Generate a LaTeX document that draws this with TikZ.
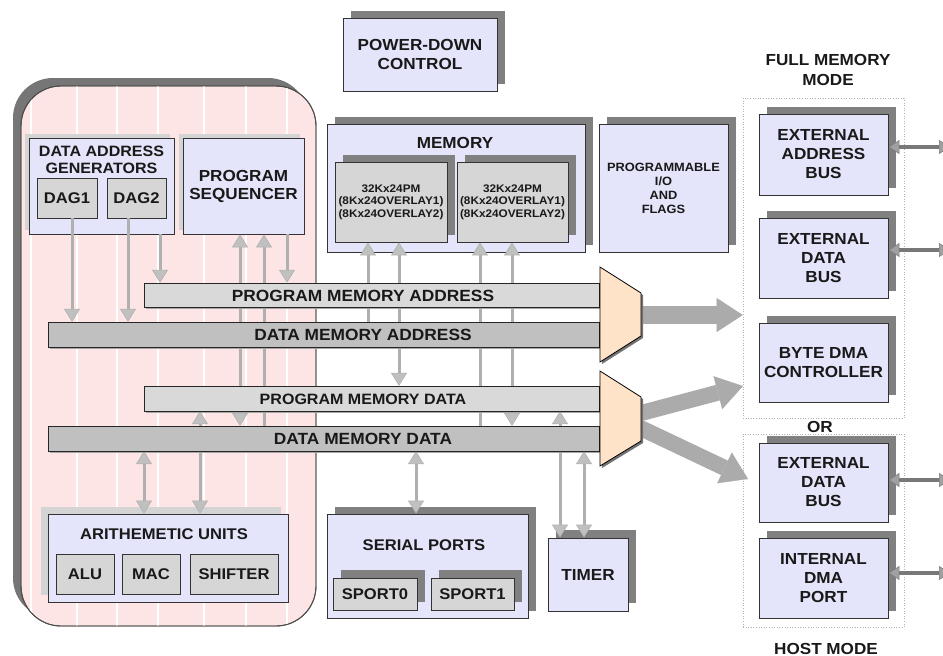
\documentclass[tikz,border=0pt]{standalone}
\usepackage{fontspec}
\setmainfont{Liberation Sans}[FakeStretch=1.07]
\usetikzlibrary{arrows.meta,shadows}
\definecolor{lav}{RGB}{228,228,250}
\definecolor{ingray}{RGB}{214,214,214}
\definecolor{shdark}{RGB}{128,128,128}
\definecolor{shlight}{RGB}{212,212,212}
\definecolor{pinkfill}{RGB}{253,229,229}
\definecolor{panelsh}{RGB}{118,118,118}
\definecolor{buslight}{RGB}{217,217,217}
\definecolor{busdark}{RGB}{192,192,192}
\definecolor{muxfill}{RGB}{255,227,200}
\definecolor{arrgray}{RGB}{176,176,176}
\definecolor{headgray}{RGB}{192,192,192}
\definecolor{bigarrc}{RGB}{171,171,171}
\definecolor{dblc}{RGB}{120,120,120}
\definecolor{dblhead}{RGB}{160,160,160}
\newcommand\myfs[2]{\fontsize{#1}{#2}\selectfont\bfseries}
\begin{document}
\begin{tikzpicture}[x=1pt,y=-1pt,
  every node/.style={inner sep=0pt, text=black!90},
  lavbox/.style={draw=black!80, line width=0.9pt, fill=lav, align=center},
  graybox/.style={draw=black!80, line width=0.9pt, fill=ingray, align=center},
  dkshadow/.style={general shadow={shadow xshift=8pt, shadow yshift=7pt, fill=shdark}},
  ltshadow/.style={general shadow={shadow xshift=-4pt, shadow yshift=4pt, fill=shlight}},
  bus/.style={draw=black!85, line width=0.9pt, general shadow={shadow xshift=1.5pt, shadow yshift=-1.5pt, fill=black!35}},
  lbl/.style={align=center},
  tip/.tip={Triangle[width=16pt,length=13pt,line width=0.6pt,fill=headgray]},
  varr/.style={draw=arrgray, line width=3pt, -tip},
  vdarr/.style={draw=arrgray, line width=3pt, tip-tip},
  dtip/.tip={Triangle[width=14pt,length=11pt,line width=0.5pt,fill=dblhead]},
  dbl/.style={draw=dblc, line width=3.5pt, dtip-dtip},
  bigarrow/.style={draw=bigarrc, line width=#1, -{Triangle[width=34pt,length=26pt,line width=0.2pt,fill=bigarrc]}},
  mux/.style={fill=muxfill, draw=black, line width=0.8pt},
  dotbox/.style={draw=black!30, dotted, line width=0.6pt}
]
\useasboundingbox (0,0) rectangle (943,656);

% ---- left panel ----
\node[draw=black!70, line width=0.9pt, fill=pinkfill, rounded corners=40pt,
      minimum width=295pt, minimum height=540pt,
      general shadow={shadow xshift=-8pt, shadow yshift=8pt, fill=panelsh}] (panel) at (168.5,356) {};
\begin{scope}
  \clip[rounded corners=40pt] (21,86) rectangle (316,626);
  \foreach \x in {31,77,117,158,204,246,287}
    \draw[white, line width=1.2pt] (\x,86) -- (\x,626);
\end{scope}
\draw[black!70, line width=0.9pt, rounded corners=40pt] (21,86) rectangle (316,626);

% ---- right side groups ----
\node[dotbox, minimum width=161pt, minimum height=320pt] (fm) at (823.5,258) {};
\node[dotbox, minimum width=161pt, minimum height=193pt] (hm) at (823.5,530.5) {};
\node[lbl, font=\myfs{16}{20}] (fmt) at (828,70) {FULL MEMORY\\MODE};
\node[lbl, font=\myfs{16}{20}] (ort) at (820,427) {OR};
\node[lbl, font=\myfs{16}{20}] (hmt) at (826,649) {HOST MODE};

% ---- boxes ----
\node[lavbox, dkshadow, minimum width=154pt, minimum height=73pt, font=\myfs{16}{19}] (pd) at (420,54.5) {POWER-DOWN\\CONTROL};

\node[lavbox, dkshadow, minimum width=258pt, minimum height=128pt] (mem) at (456,188) {};
\node[lbl, font=\myfs{16}{19}] (memt) at (455,143) {MEMORY};
\node[graybox, dkshadow, minimum width=112pt, minimum height=80pt, font=\myfs{11}{12.5}] (m1) at (391,202) {32Kx24PM\\(8Kx24OVERLAY1)\\(8Kx24OVERLAY2)};
\node[graybox, dkshadow, minimum width=111pt, minimum height=80pt, font=\myfs{11}{12.5}] (m2) at (512.5,202) {32Kx24PM\\(8Kx24OVERLAY1)\\(8Kx24OVERLAY2)};

\node[lavbox, dkshadow, minimum width=129pt, minimum height=128pt, font=\myfs{12}{14}] (pio) at (663.5,188) {PROGRAMMABLE\\I/O\\AND\\FLAGS};

\node[lavbox, ltshadow, minimum width=145pt, minimum height=96pt] (dagbox) at (101.5,186) {};
\node[lbl, font=\myfs{15}{17}] (dagt) at (101.5,160) {DATA ADDRESS\\GENERATORS};
\node[graybox, minimum width=60pt, minimum height=40pt, font=\myfs{15.5}{18}] (dag1) at (67,198) {DAG1};
\node[graybox, minimum width=59pt, minimum height=40pt, font=\myfs{15.5}{18}] (dag2) at (136.5,198) {DAG2};

\node[lavbox, ltshadow, minimum width=121pt, minimum height=96pt, font=\myfs{16}{18}] (ps) at (243.5,186) {PROGRAM\\SEQUENCER};

\node[lavbox, general shadow={shadow xshift=-7pt, shadow yshift=7pt, fill=shlight}, minimum width=240pt, minimum height=88pt] (au) at (168,558) {};
\node[lbl, font=\myfs{15.5}{18}] (aut) at (164,534) {ARITHEMETIC UNITS};
\node[graybox, minimum width=58pt, minimum height=40pt, font=\myfs{15.5}{18}] (alu) at (85,574) {ALU};
\node[graybox, minimum width=58pt, minimum height=40pt, font=\myfs{15.5}{18}] (mac) at (151,574) {MAC};
\node[graybox, minimum width=88pt, minimum height=40pt, font=\myfs{15.5}{18}] (shf) at (234,574) {SHIFTER};

\node[lavbox, dkshadow, minimum width=201pt, minimum height=104pt] (sp) at (427.5,566) {};
\node[lbl, font=\myfs{15.5}{18}] (spt) at (424,545) {SERIAL PORTS};
\node[graybox, general shadow={shadow xshift=8pt, shadow yshift=8pt, fill=shdark}, minimum width=84pt, minimum height=32pt, font=\myfs{15.5}{18}] (sp0) at (375,594) {SPORT0};
\node[graybox, general shadow={shadow xshift=8pt, shadow yshift=8pt, fill=shdark}, minimum width=83pt, minimum height=32pt, font=\myfs{15.5}{18}] (sp1) at (472.5,594) {SPORT1};

\node[lavbox, general shadow={shadow xshift=8pt, shadow yshift=8pt, fill=shdark}, minimum width=80pt, minimum height=73pt, font=\myfs{16}{18}] (timer) at (588,574.5) {TIMER};

\node[lavbox, dkshadow, minimum width=129pt, minimum height=81pt, font=\myfs{16}{19}] (eab) at (823.5,154.5) {EXTERNAL\\ADDRESS\\BUS};
\node[lavbox, dkshadow, minimum width=129pt, minimum height=80pt, font=\myfs{16}{19}] (edb1) at (823.5,258) {EXTERNAL\\DATA\\BUS};
\node[lavbox, dkshadow, minimum width=129pt, minimum height=79pt, font=\myfs{16}{19}] (bdma) at (823.5,362.5) {BYTE DMA\\CONTROLLER};
\node[lavbox, dkshadow, minimum width=129pt, minimum height=79pt, font=\myfs{16}{19}] (edb2) at (823.5,482.5) {EXTERNAL\\DATA\\BUS};
\node[lavbox, dkshadow, minimum width=129pt, minimum height=80pt, font=\myfs{16}{19}] (idma) at (823.5,578) {INTERNAL\\DMA\\PORT};

% ---- bus anchors (drawn over the connectors below) ----
\path (371.5,295) node[minimum width=455pt, minimum height=24pt] (pma) {};
\path (323.5,334.5) node[minimum width=551pt, minimum height=25pt] (dma) {};
\path (371.5,398.5) node[minimum width=455pt, minimum height=25pt] (pmd) {};
\path (323.5,438.5) node[minimum width=551pt, minimum height=25pt] (dmd) {};

% ---- vertical connectors ----
\draw[varr] (72,0 |- dag1.south) -- (72,0 |- dma.north);
\draw[varr] (128,0 |- dag2.south) -- (128,0 |- dma.north);
\draw[varr] (160,0 |- dagbox.south) -- (160,0 |- pma.north);
\draw[vdarr] (240,0 |- ps.south) -- (240,0 |- dmd.north);
\draw[varr] (264,0 |- dmd.north) -- (264,0 |- ps.south);
\draw[varr] (287,0 |- ps.south) -- (287,0 |- pma.north);
\draw[varr] (368,0 |- dma.north) -- (368,0 |- m1.south);
\draw[vdarr] (399,0 |- m1.south) -- (399,0 |- pmd.north);
\draw[varr] (480,0 |- dmd.north) -- (480,0 |- m2.south);
\draw[vdarr] (512,0 |- m2.south) -- (512,0 |- dmd.north);
\draw[vdarr] (144,0 |- au.north) -- (144,0 |- dmd.south);
\draw[vdarr] (200,0 |- au.north) -- (200,0 |- pmd.south);
\draw[vdarr] (416,0 |- sp.north) -- (416,0 |- dmd.south);
\draw[vdarr] (560,0 |- timer.north) -- (560,0 |- pmd.south);
\draw[vdarr] (584,0 |- timer.north) -- (584,0 |- dmd.south);

% ---- buses drawn ----
\node[bus, fill=buslight, minimum width=455pt, minimum height=24pt] (pmab) at (371.5,295) {};
\node[bus, fill=busdark, minimum width=551pt, minimum height=25pt] (dmab) at (323.5,334.5) {};
\node[bus, fill=buslight, minimum width=455pt, minimum height=25pt] (pmdb) at (371.5,398.5) {};
\node[bus, fill=busdark, minimum width=551pt, minimum height=25pt] (dmdb) at (323.5,438.5) {};
\node[font=\myfs{16.2}{18}] (pmat) at (363,295.5) {PROGRAM MEMORY ADDRESS};
\node[font=\myfs{16.2}{18}] (dmat) at (363,335) {DATA MEMORY ADDRESS};
\node[font=\myfs{15}{18}] (pmdt) at (363,399) {PROGRAM MEMORY DATA};
\node[font=\myfs{16.2}{18}] (dmdt) at (363,439) {DATA MEMORY DATA};

% ---- big arrows out of the multiplexers ----
\coordinate (mo1) at (630,315);
\coordinate (mo2a) at (630,416);
\coordinate (mo2b) at (630,423);
\coordinate (d1) at (743,386);
\coordinate (d2) at (748,479);
\draw[bigarrow=18pt] (mo1) -- (fm.west |- mo1);
\draw[bigarrow=16pt] (mo2a) -- (d1);
\draw[bigarrow=16pt] (mo2b) -- (d2);

% ---- multiplexers ----
\fill[black!55] (602,269) -- (643,295) -- (643,338) -- (602,364) -- cycle;
\draw[mux] (600,267) -- (641,293) -- (641,336) -- (600,362) -- cycle;
\fill[black!55] (602,373) -- (643,399) -- (643,443) -- (602,468) -- cycle;
\draw[mux] (600,371) -- (641,397) -- (641,441) -- (600,466) -- cycle;

% ---- external double arrows ----
\coordinate (r1) at (950,147);
\coordinate (r2) at (950,250);
\coordinate (r3) at (950,480);
\coordinate (r4) at (950,573);
\draw[dbl] (eab.east |- r1) -- (r1);
\draw[dbl] (edb1.east |- r2) -- (r2);
\draw[dbl] (edb2.east |- r3) -- (r3);
\draw[dbl] (idma.east |- r4) -- (r4);
\end{tikzpicture}
\end{document}
